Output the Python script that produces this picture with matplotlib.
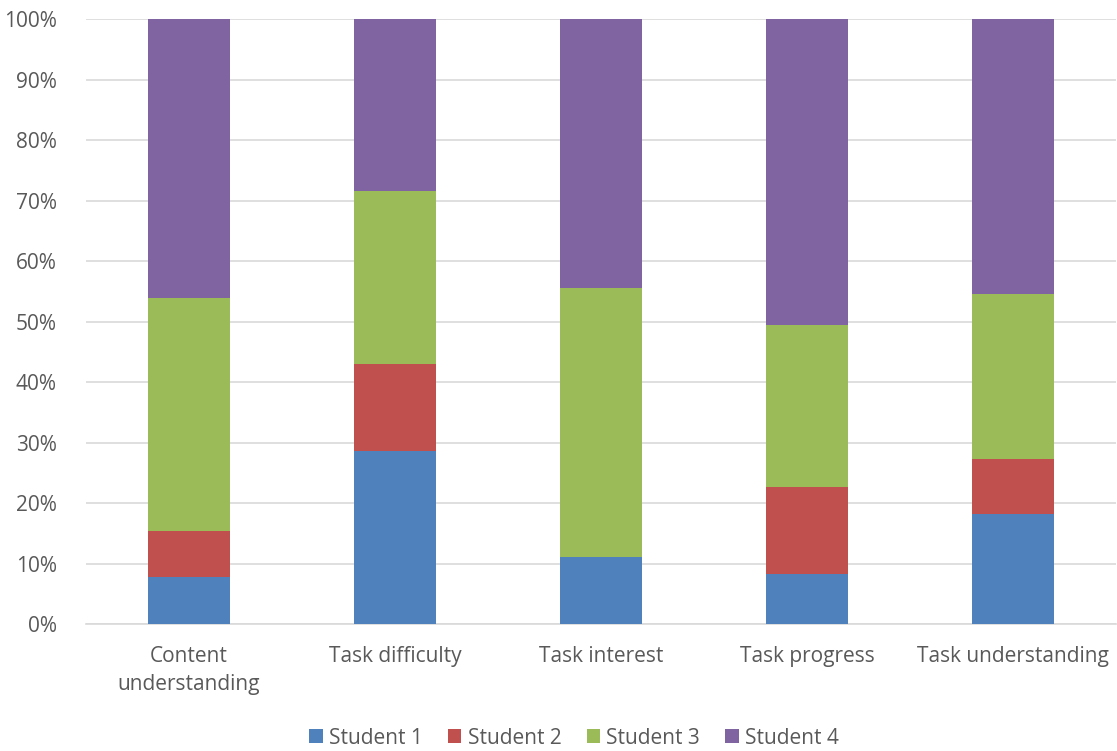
import matplotlib
matplotlib.use("Agg")
import matplotlib.pyplot as plt
import numpy as np

categories = ["Content\nunderstanding", "Task difficulty", "Task interest", "Task progress", "Task understanding"]
series_names = ["Student 1", "Student 2", "Student 3", "Student 4"]
student1 = [7.7, 28.6, 11.1, 8.3, 18.2]
student2 = [7.7, 14.3, 0.0, 14.3, 9.1]
student3 = [38.5, 28.6, 44.4, 26.8, 27.3]
student4 = [46.1, 28.5, 44.5, 50.6, 45.4]
colors = ["#4F81BD", "#C0504D", "#9BBB59", "#8064A2"]
yticks = [0, 10, 20, 30, 40, 50, 60, 70, 80, 90, 100]

plt.rcParams['font.family'] = ['Open Sans', 'DejaVu Sans']
fig = plt.figure(figsize=(11.17, 7.51), dpi=100)
ax = fig.add_axes([86/1117, 1-624/751, 1030/1117, 605/751])

x = np.arange(len(categories))
bottom = np.zeros(len(categories))
for name, vals, c in zip(series_names, [student1, student2, student3, student4], colors):
    vals = np.array(vals)
    ax.bar(x, vals, width=0.4, bottom=bottom, color=c, label=name, zorder=3)
    bottom += vals

ax.set_xlim(-0.5, len(categories) - 0.5)
ax.set_ylim(0, 100)
ax.set_yticks(yticks)
ax.set_yticklabels([f"{t}%" for t in yticks])
ax.grid(axis='y', color='#D9D9D9', linewidth=1.2, zorder=0)
for s in ['top', 'right', 'left']:
    ax.spines[s].set_visible(False)
ax.spines['bottom'].set_color('#D9D9D9')
ax.spines['bottom'].set_linewidth(1.2)
ax.set_xticks(x)
ax.set_xticklabels(categories, linespacing=1.45)
ax.tick_params(axis='both', length=0, labelsize=15, labelcolor='#595959')
ax.tick_params(axis='x', pad=16)
ax.tick_params(axis='y', pad=21)

ax.legend(loc='center', bbox_to_anchor=(574/1117, 1-738/751), bbox_transform=fig.transFigure,
          ncol=4, frameon=False, fontsize=15, handlelength=0.65, handleheight=0.65,
          handletextpad=0.3, columnspacing=1.2, labelcolor='#595959')

fig.savefig("out.png", dpi=100)
